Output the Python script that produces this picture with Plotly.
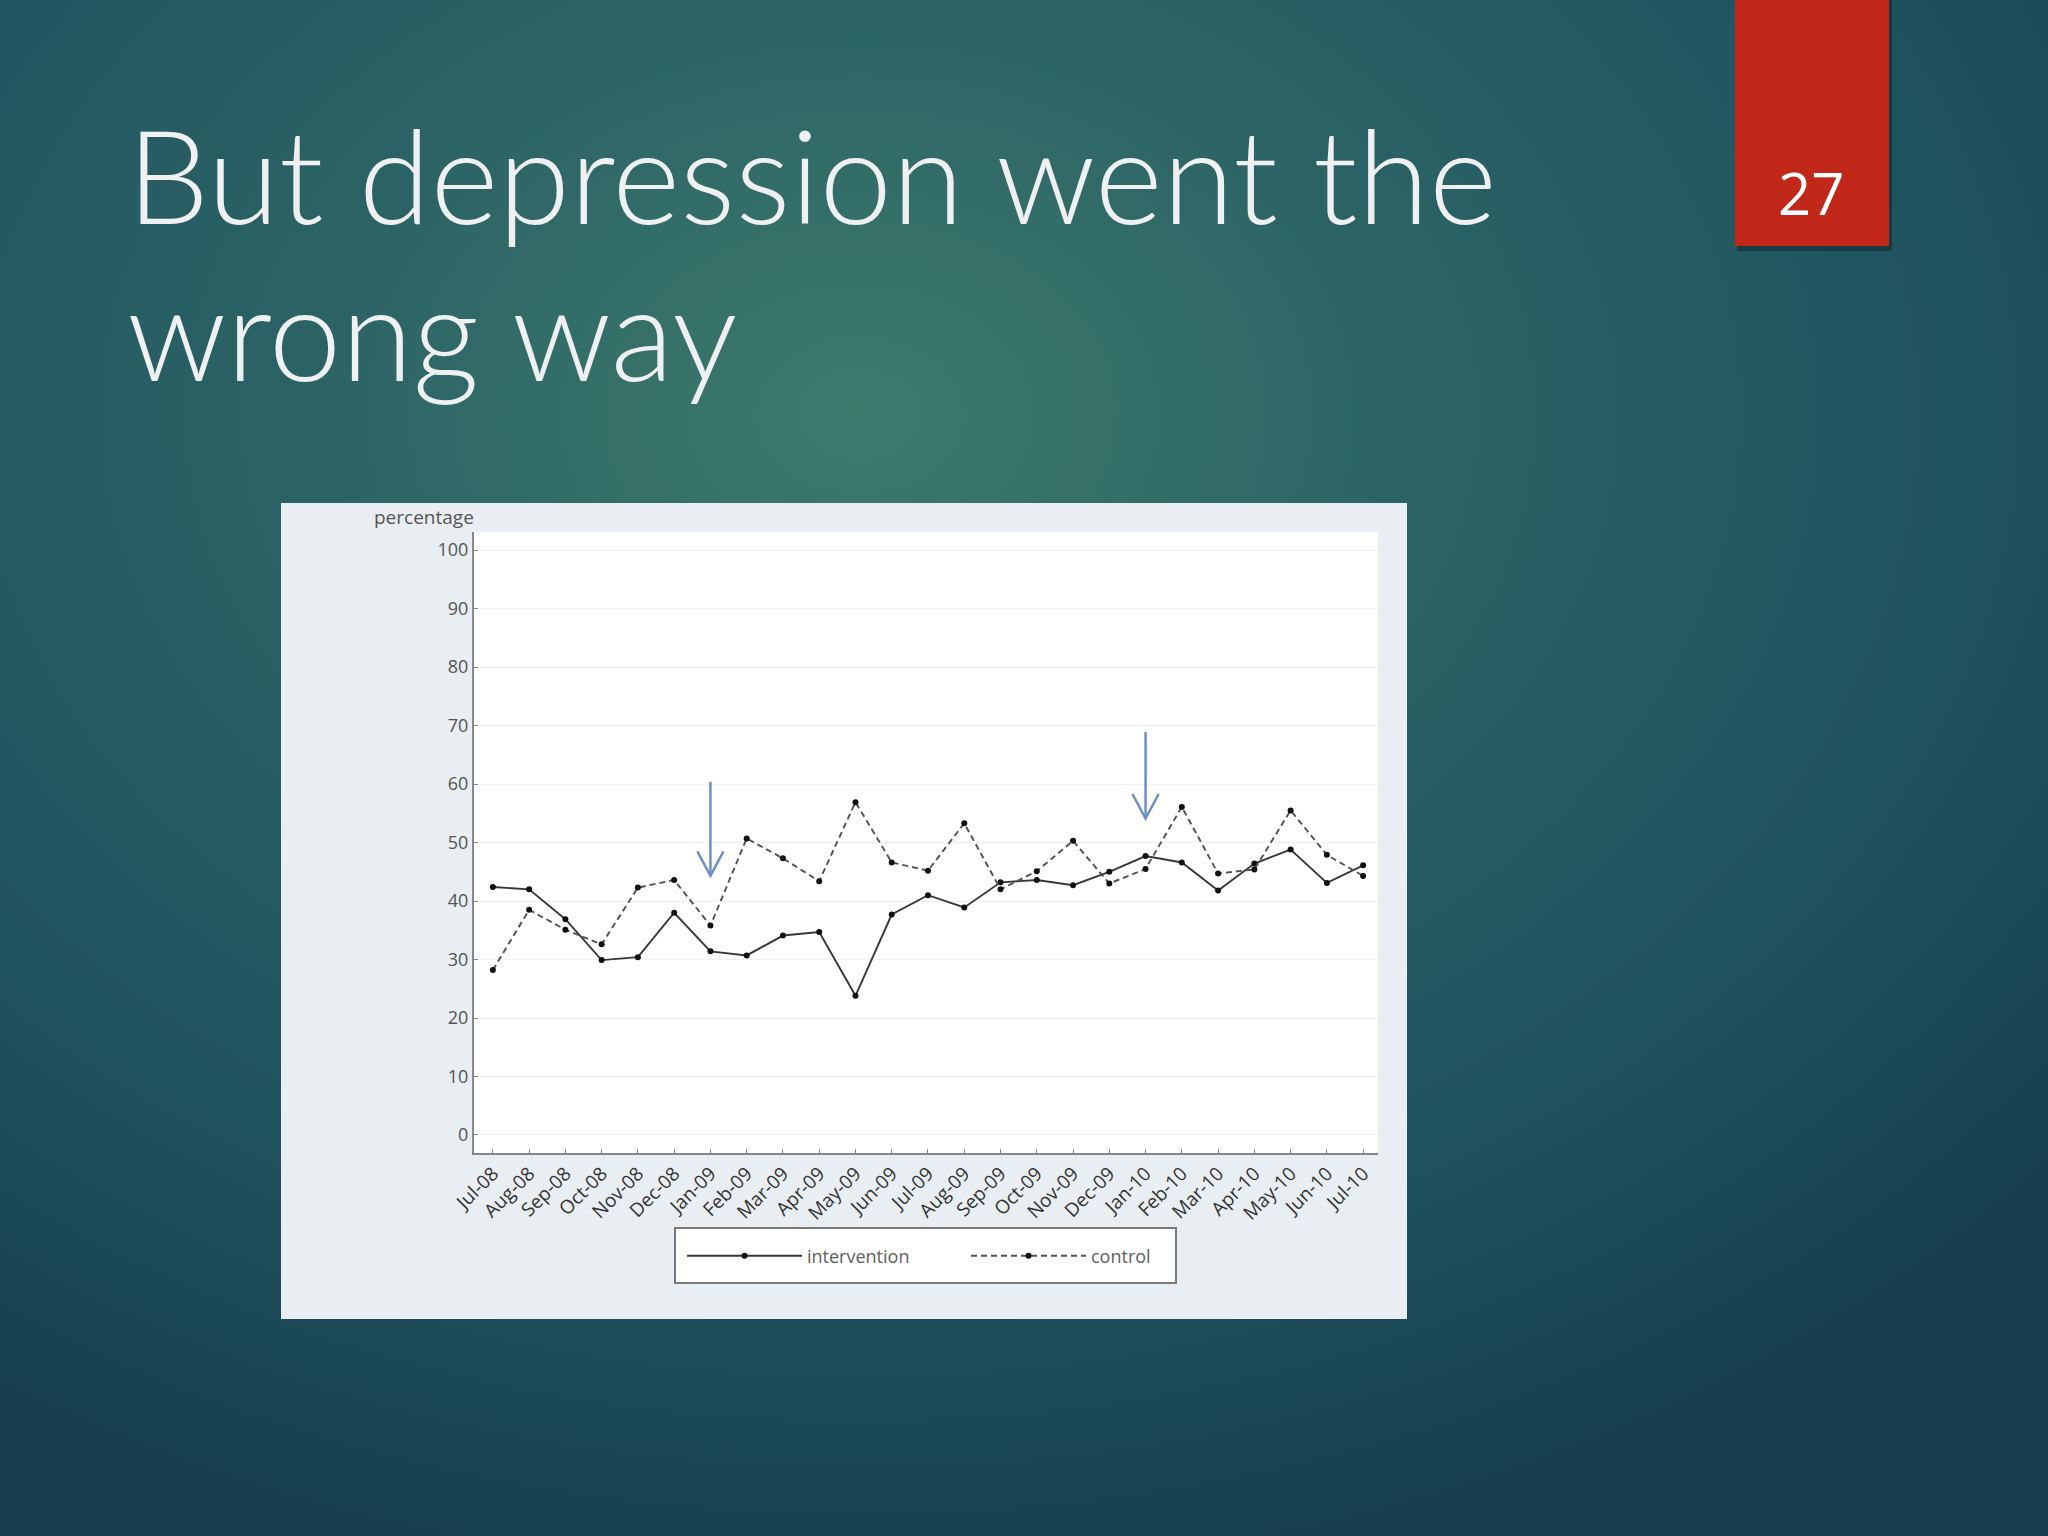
import base64
import plotly.graph_objects as go

W, H = 2048, 1536

months = ["Jul-08", "Aug-08", "Sep-08", "Oct-08", "Nov-08", "Dec-08", "Jan-09",
          "Feb-09", "Mar-09", "Apr-09", "May-09", "Jun-09", "Jul-09", "Aug-09",
          "Sep-09", "Oct-09", "Nov-09", "Dec-09", "Jan-10", "Feb-10", "Mar-10",
          "Apr-10", "May-10", "Jun-10", "Jul-10"]
intervention = [42.4, 42.0, 36.9, 29.9, 30.4, 38.0, 31.4, 30.7, 34.1, 34.7, 23.8,
                37.7, 41.0, 38.9, 43.2, 43.6, 42.7, 45.0, 47.7, 46.6, 41.8, 46.4,
                48.8, 43.1, 46.1]
control = [28.2, 38.5, 35.1, 32.6, 42.3, 43.6, 35.8, 50.7, 47.3, 43.4, 56.9,
           46.6, 45.2, 53.3, 42.0, 45.1, 50.3, 43.0, 45.5, 56.1, 44.7, 45.4,
           55.5, 47.9, 44.3]
yticks = list(range(0, 101, 10))

# arrows marking the two intervention phases
arrow_months = ["Jan-09", "Jan-10"]
arrow_top = [60.4, 68.9]
arrow_tip = [44.3, 54.1]


def px(x):
    return x / W


def py(y):
    return 1 - y / H


# slide background: radial teal gradient as svg
svg = """<svg xmlns='http://www.w3.org/2000/svg' width='2048' height='1536' viewBox='0 0 2048 1536' preserveAspectRatio='none'>
<defs><radialGradient id='g' cx='0.42' cy='0.27' r='0.78' gradientUnits='objectBoundingBox'>
<stop offset='0' stop-color='#3e7a6c'/>
<stop offset='0.35' stop-color='#2b6365'/>
<stop offset='0.7' stop-color='#1f525f'/>
<stop offset='1' stop-color='#163d4e'/>
</radialGradient></defs>
<rect width='2048' height='1536' fill='url(#g)'/>
</svg>"""
bg_uri = "data:image/svg+xml;base64," + base64.b64encode(svg.encode()).decode()

fig = go.Figure()
fig.add_trace(go.Scatter(
    x=months, y=intervention, name="intervention", mode="lines+markers",
    line=dict(color="#383838", width=1.9),
    marker=dict(color="#111111", size=6),
))
fig.add_trace(go.Scatter(
    x=months, y=control, name="control", mode="lines+markers",
    line=dict(color="#505050", width=1.9, dash="6px,4px"),
    marker=dict(color="#111111", size=6),
))

shapes = [
    # chart picture panel
    dict(type="rect", xref="paper", yref="paper", layer="below",
         x0=px(281), x1=px(1407), y0=py(1319), y1=py(503),
         fillcolor="#e8eef1", line=dict(width=0)),
    # white plot area
    dict(type="rect", xref="paper", yref="paper", layer="below",
         x0=px(474), x1=px(1378), y0=py(1153), y1=py(532),
         fillcolor="#ffffff", line=dict(width=0)),
    # legend box
    dict(type="rect", xref="paper", yref="paper", layer="below",
         x0=px(675), x1=px(1176), y0=py(1283), y1=py(1228),
         fillcolor="#ffffff", line=dict(color="#7a7a7a", width=2)),
    # red page box shadow + box
    dict(type="rect", xref="paper", yref="paper", layer="below",
         x0=px(1737), x1=px(1892), y0=py(251), y1=py(0),
         fillcolor="rgba(0,0,0,0.3)", line=dict(width=0)),
    dict(type="rect", xref="paper", yref="paper", layer="below",
         x0=px(1735), x1=px(1889), y0=py(246), y1=py(0),
         fillcolor="#c1281a", line=dict(width=0)),
]
arrow_color = "#6d8fc3"
for m, top, tip in zip(arrow_months, arrow_top, arrow_tip):
    i = months.index(m)
    shapes.append(dict(type="line", xref="x", yref="y", x0=i, x1=i, y0=top, y1=tip,
                       line=dict(color=arrow_color, width=2.5)))
    shapes.append(dict(type="path", xref="x", yref="y",
                       path=f"M {i-0.36},{tip+4.2} L {i},{tip} L {i+0.36},{tip+4.2}",
                       line=dict(color=arrow_color, width=2.5)))

title_font = dict(family="Lato", size=130, color="#eef0f2", weight=300)
annotations = [
    dict(text="But depression went the", xref="paper", yref="paper",
         x=px(126), y=py(174), xanchor="left", yanchor="middle", showarrow=False,
         font=title_font, borderpad=0),
    dict(text="wrong way", xref="paper", yref="paper",
         x=px(126), y=py(331), xanchor="left", yanchor="middle", showarrow=False,
         font=title_font, borderpad=0),
    dict(text="27", xref="paper", yref="paper",
         x=px(1811), y=py(192), xanchor="center", yanchor="middle", showarrow=False,
         font=dict(family="Open Sans", size=58, color="#ffffff")),
    dict(text="percentage", xref="paper", yref="paper",
         x=px(476), y=py(532), xanchor="right", yanchor="bottom", showarrow=False,
         font=dict(family="Open Sans", size=19, color="#555555")),
]

fig.update_layout(
    width=W, height=H,
    autosize=False,
    margin=dict(l=0, r=0, t=0, b=0, pad=0, autoexpand=False),
    paper_bgcolor="#1f525f",
    plot_bgcolor="rgba(0,0,0,0)",
    images=[dict(source=bg_uri, xref="paper", yref="paper", x=0, y=1,
                 sizex=1, sizey=1, sizing="stretch", layer="below")],
    shapes=shapes,
    annotations=annotations,
    showlegend=True,
    legend=dict(orientation="h", x=px(682), y=py(1256), xanchor="left", yanchor="middle",
                bgcolor="rgba(0,0,0,0)", borderwidth=0,
                font=dict(family="Open Sans", size=18, color="#606060"),
                itemwidth=115, entrywidth=154, entrywidthmode="pixels"),
    xaxis=dict(domain=[px(474), px(1378)], range=[-0.52, 24.41],
               type="category", tickangle=-45, showgrid=False,
               showline=True, linecolor="#888888", linewidth=2,
               ticks="inside", ticklen=4, tickcolor="#888888",
               tickfont=dict(family="Open Sans", size=19, color="#333333"),
               zeroline=False, automargin=False),
    yaxis=dict(domain=[py(1153), py(532)], range=[-3.08, 103.1],
               tickvals=yticks, showgrid=True, gridcolor="#f1f1f1", gridwidth=1,
               showline=True, linecolor="#888888", linewidth=2,
               ticks="inside", ticklen=4, tickcolor="#888888",
               tickfont=dict(family="Open Sans", size=18, color="#555555"),
               zeroline=False, automargin=False),
)

fig.write_html("out.html",
               config={"displayModeBar": False, "responsive": False},
               post_script="document.body.style.margin='0';")
